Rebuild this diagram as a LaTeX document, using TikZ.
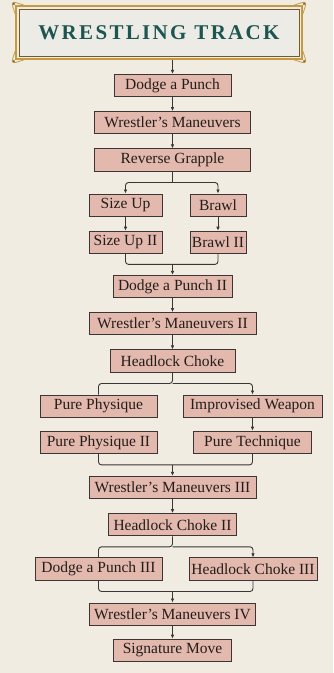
\documentclass[tikz,border=0pt]{standalone}
\usepackage{fontspec}
\setmainfont{Liberation Serif}
\newfontfamily\titlefont{Liberation Serif}[LetterSpace=11]
\usetikzlibrary{arrows.meta,positioning,calc}
\definecolor{parchment}{HTML}{F1ECE2}
\definecolor{bannerFill}{HTML}{ECEBE5}
\definecolor{frameGold}{HTML}{C49A45}
\definecolor{frameDark}{HTML}{7A5A22}
\definecolor{titleTeal}{HTML}{1D5550}
\definecolor{skillPink}{HTML}{E3B9AE}
\definecolor{edgeGrey}{HTML}{3B3535}
\definecolor{inkDark}{HTML}{231D1B}
\tikzset{
  flow arrow/.style={-{Latex[length=4pt,width=3.6pt]},draw=edgeGrey,
    line width=0.9pt,rounded corners=3pt},
  flow line/.style={draw=edgeGrey,line width=0.9pt,rounded corners=3pt},
  skill node/.style={draw=edgeGrey,fill=skillPink,line width=0.9pt,
    minimum height=22.3pt,inner sep=0pt,text=inkDark,
    font=\fontsize{15.5}{18}\selectfont},
  banner node/.style={fill=bannerFill,draw=frameGold,line width=1.2pt,
    minimum width=286pt,minimum height=53pt,text=titleTeal,
    font=\titlefont\bfseries\fontsize{21}{24}\selectfont}
}
\begin{document}
\begin{tikzpicture}[x=1pt,y=-1pt,node distance=14pt]
  \useasboundingbox (0,0) rectangle (333,673);
  \fill[parchment] (0,0) rectangle (333,673);
  % title banner
  \node[banner node] (title) at (159,32.5) {WRESTLING\hspace{8pt}TRACK};
  \draw[frameDark,line width=0.8pt]
    ($(title.north west)+(3.5,3.5)$) rectangle ($(title.south east)+(-3.5,-3.5)$);
  \foreach \c/\sx/\sy in {north west/-1/-1,north east/1/-1,
      south east/1/1,south west/-1/1} {
    \draw[frameGold,line width=0.8pt]
      ($(title.\c)+(-\sx*9,0)$) .. controls ($(title.\c)+(\sx*5,\sy*5)$)
      .. ($(title.\c)+(0,-\sy*9)$);
    \fill[frameDark] ($(title.\c)+(\sx*1.5,\sy*1.5)$) circle (1.2);
  }
  % main column
  \node[skill node,minimum width=117pt] (dodge) at (172.5,85.5) {Dodge a Punch};
  \node[skill node,minimum width=156pt,below=of dodge] (wman) {Wrestler's Maneuvers};
  \node[skill node,minimum width=156pt,below=of wman] (grapple) {Reverse Grapple};
  \node[skill node,minimum width=73pt,below=22pt of grapple,xshift=-47pt] (sizeup) {Size Up};
  \node[skill node,minimum width=56pt,below=22pt of grapple,xshift=45.5pt] (brawl) {Brawl};
  \node[skill node,minimum width=73pt,below=of sizeup] (sizeupb) {Size Up II};
  \node[skill node,minimum width=56pt,below=of brawl] (brawlb) {Brawl II};
  \node[skill node,minimum width=119pt,below=21pt of sizeupb,xshift=47pt] (dodgeb) {Dodge a Punch II};
  \node[skill node,minimum width=167pt,below=of dodgeb] (wmanb) {Wrestler's Maneuvers II};
  \node[skill node,minimum width=125pt,below=of wmanb] (choke) {Headlock Choke};
  \node[skill node,minimum width=117pt,below=22pt of choke,xshift=-74pt] (physique) {Pure Physique};
  \node[skill node,minimum width=139pt,below=22pt of choke,xshift=80pt] (weapon) {Improvised Weapon};
  \node[skill node,minimum width=117pt,below=13pt of physique] (physiqueb) {Pure Physique II};
  \node[skill node,minimum width=118pt,below=13pt of weapon] (technique) {Pure Technique};
  \node[skill node,minimum width=167pt,below=22pt of physiqueb,xshift=74pt] (wmanc) {Wrestler's Maneuvers III};
  \node[skill node,minimum width=128pt,below=of wmanc] (chokeb) {Headlock Choke II};
  \node[skill node,minimum width=127pt,below=21pt of chokeb,xshift=-74pt] (dodgec) {Dodge a Punch III};
  \node[skill node,minimum width=128pt,below=21pt of chokeb,xshift=80.5pt] (chokec) {Headlock Choke III};
  \node[skill node,minimum width=166pt,below=22pt of dodgec,xshift=74pt] (wmand) {Wrestler's Maneuvers IV};
  \node[skill node,minimum width=118pt,below=13pt of wmand] (signature) {Signature Move};
  % straight links
  \draw[flow arrow] (title.south -| dodge.north) -- (dodge.north);
  \draw[flow arrow] (dodge) -- (wman);
  \draw[flow arrow] (wman) -- (grapple);
  \draw[flow arrow] (sizeup) -- (sizeupb);
  \draw[flow arrow] (brawl) -- (brawlb);
  \draw[flow arrow] (dodgeb) -- (wmanb);
  \draw[flow arrow] (wmanb) -- (choke);
  \draw[flow arrow] (weapon) -- (technique);
  \draw[flow arrow] (wmanc) -- (chokeb);
  \draw[flow arrow] (wmand) -- (signature);
  % splits
  \coordinate (splitA) at ($(grapple.south)!0.5!(grapple.south |- sizeup.north)$);
  \draw[flow line] (grapple.south) -- (splitA);
  \draw[flow arrow] (splitA) -| (sizeup.north);
  \draw[flow arrow] (splitA) -| (brawl.north);
  \coordinate (splitB) at ($(choke.south)!0.5!(choke.south |- physique.north)$);
  \draw[flow line] (choke.south) -- (splitB) -| (physique.north);
  \draw[flow arrow] (splitB) -| (weapon.north);
  \coordinate (splitC) at ($(chokeb.south)!0.5!(chokeb.south |- dodgec.north)$);
  \draw[flow line] (chokeb.south) -- (splitC) -| (dodgec.north);
  \draw[flow arrow] (splitC) -| (chokec.north);
  % merges
  \coordinate (mergeA) at ($(sizeupb.south -| dodgeb.north)!0.5!(dodgeb.north)$);
  \draw[flow line] (sizeupb.south) |- (mergeA) -| (brawlb.south);
  \draw[flow arrow] (mergeA) -- (dodgeb.north);
  \coordinate (mergeB) at ($(physiqueb.south -| wmanc.north)!0.5!(wmanc.north)$);
  \draw[flow line] (physiqueb.south) |- (mergeB) -| (technique.south);
  \draw[flow arrow] (mergeB) -- (wmanc.north);
  \coordinate (mergeC) at ($(dodgec.south -| wmand.north)!0.5!(wmand.north)$);
  \draw[flow line] (dodgec.south) |- (mergeC) -| (chokec.south);
  \draw[flow arrow] (mergeC) -- (wmand.north);
\end{tikzpicture}
\end{document}
